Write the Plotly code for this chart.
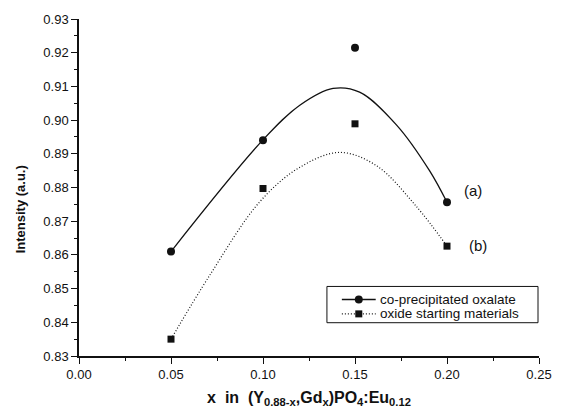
import plotly.graph_objects as go

# Measured data points
x_data = [0.05, 0.10, 0.15, 0.20]
y_oxalate = [0.861, 0.894, 0.9215, 0.8756]
y_oxide = [0.835, 0.8797, 0.8989, 0.8626]

# Smoothed fit curves
x_fit_a = [0.05, 0.1001, 0.12, 0.1381, 0.1525, 0.1725, 0.1905, 0.20]
y_fit_a = [0.861, 0.8942, 0.9044, 0.9094, 0.9083, 0.8986, 0.8850, 0.8756]
x_fit_b = [0.05, 0.0711, 0.0983, 0.12, 0.1417, 0.1616, 0.1833, 0.20]
y_fit_b = [0.835, 0.854, 0.8758, 0.886, 0.8904, 0.8865, 0.8744, 0.8626]

legend_names = ["co-precipitated oxalate", "oxide starting materials"]
x_ticks = [0.00, 0.05, 0.10, 0.15, 0.20, 0.25]
y_ticks = [0.83, 0.84, 0.85, 0.86, 0.87, 0.88, 0.89, 0.90, 0.91, 0.92, 0.93]

FONT = "Liberation Sans, Arial, sans-serif"
INK = "#111111"
PW = 462  # plot width in px

fig = go.Figure()
fig.add_trace(go.Scatter(x=x_fit_a, y=y_fit_a, mode="lines",
                         line=dict(color=INK, width=1.3, shape="spline", smoothing=1.0),
                         showlegend=False, hoverinfo="skip"))
fig.add_trace(go.Scatter(x=x_fit_b, y=y_fit_b, mode="lines",
                         line=dict(color=INK, width=1.2, dash="1px,2px", shape="spline", smoothing=1.0),
                         showlegend=False, hoverinfo="skip"))
fig.add_trace(go.Scatter(x=x_data, y=y_oxalate, mode="markers", marker=dict(symbol="circle", size=8, color=INK),
                         showlegend=False))
fig.add_trace(go.Scatter(x=x_data, y=y_oxide, mode="markers", marker=dict(symbol="square", size=7, color=INK),
                         showlegend=False))

fig.add_annotation(x=0.2, y=0.8756, xref="x", yref="y", text="(a)", showarrow=False, xshift=26, yshift=12,
                   font=dict(size=15, color=INK, family=FONT))
fig.add_annotation(x=0.2, y=0.8626, xref="x", yref="y", text="(b)", showarrow=False, xshift=31, yshift=1,
                   font=dict(size=15, color=INK, family=FONT))

# Legend box drawn by hand (compact, like the original)
lx0, lx1, ly0, ly1 = 249 / PW, 461 / PW, 0.0988, 0.2064
rows = [0.1677, 0.125]
sx0, sx1, smk, tx = 264 / PW, 298 / PW, 281 / PW, 300 / PW
fig.add_shape(type="rect", xref="paper", yref="paper", x0=lx0, x1=lx1, y0=ly0, y1=ly1,
              line=dict(color=INK, width=1), fillcolor="white", layer="above")
fig.add_shape(type="line", xref="paper", yref="paper", x0=sx0, x1=sx1, y0=rows[0], y1=rows[0],
              line=dict(color=INK, width=1.3), layer="above")
fig.add_shape(type="line", xref="paper", yref="paper", x0=sx0, x1=sx1, y0=rows[1], y1=rows[1],
              line=dict(color=INK, width=1.2, dash="1px,2px"), layer="above")
fig.add_shape(type="circle", xref="paper", yref="paper", xsizemode="pixel", ysizemode="pixel",
              xanchor=smk, yanchor=rows[0], x0=-4, x1=4, y0=-4, y1=4,
              line=dict(color=INK, width=0), fillcolor=INK, layer="above")
fig.add_shape(type="rect", xref="paper", yref="paper", xsizemode="pixel", ysizemode="pixel",
              xanchor=smk, yanchor=rows[1], x0=-3.5, x1=3.5, y0=-3.5, y1=3.5,
              line=dict(color=INK, width=0), fillcolor=INK, layer="above")
for name, ry in zip(legend_names, rows):
    fig.add_annotation(x=tx, y=ry, xref="paper", yref="paper", text=name, showarrow=False,
                       xanchor="left", yanchor="middle", font=dict(size=13.5, color=INK, family=FONT))

# y-axis title as annotation (placed like the original)
fig.add_annotation(x=-59 / PW, y=0.436, xref="paper", yref="paper", text="<b>Intensity (a.u.)</b>",
                   showarrow=False, textangle=-90, xanchor="center", yanchor="middle",
                   font=dict(size=13, color=INK, family=FONT))

axis_common = dict(showline=True, linecolor=INK, linewidth=1.5, ticks="outside", ticklen=6, tickwidth=1.2,
                   tickcolor=INK, showgrid=False, zeroline=False, mirror=False,
                   tickfont=dict(size=13, color=INK, family=FONT))

fig.update_xaxes(range=[0, 0.25], tickvals=x_ticks, ticktext=[f"{v:.2f}" for v in x_ticks],
                 minor=dict(dtick=0.025, ticks="outside", ticklen=3, tickcolor=INK, tick0=0),
                 title=dict(text="<b>x&nbsp;&nbsp;in&nbsp;&nbsp;(Y<sub>0.88-x</sub>,Gd<sub>x</sub>)PO<sub>4</sub>:Eu<sub>0.12</sub></b>",
                            font=dict(size=16, color=INK, family=FONT), standoff=10),
                 **axis_common)
fig.update_yaxes(range=[0.83, 0.93], tickvals=y_ticks, ticktext=[f"{v:.2f}" for v in y_ticks],
                 minor=dict(dtick=0.005, ticks="outside", ticklen=3, tickcolor=INK, tick0=0.83),
                 **axis_common)

fig.update_layout(
    width=564, height=418,
    margin=dict(l=79, r=564 - 79 - PW, t=12, b=62),
    plot_bgcolor="white", paper_bgcolor="white",
    font=dict(family=FONT, color=INK),
    showlegend=False,
)

fig.write_html("out.html")
